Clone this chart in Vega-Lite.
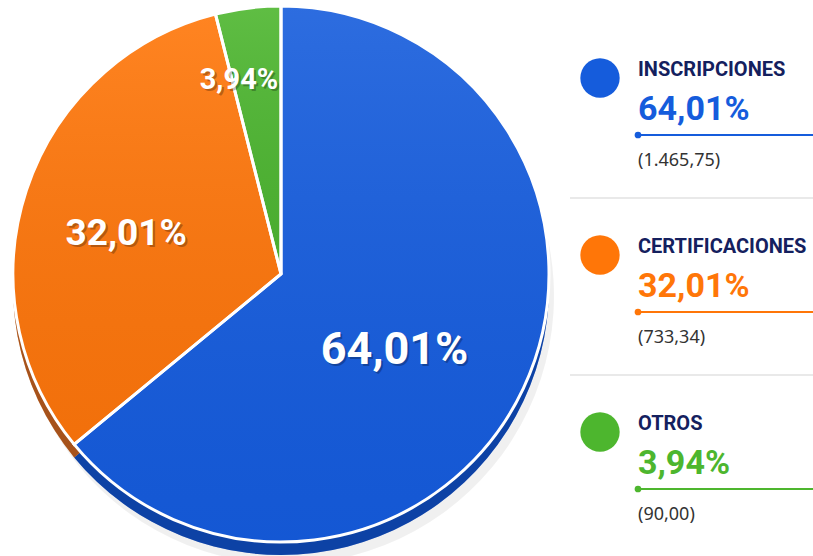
{
  "$schema": "https://vega.github.io/schema/vega-lite/v6.json",
  "padding": 0,
  "spacing": 0,
  "background": "#ffffff",
  "config": {"view": {"stroke": null}},
  "data": {"values": [
    {"cat": "INSCRIPCIONES", "order": 1, "value": 1465.75, "pct": "64,01%", "amount": "(1.465,75)"},
    {"cat": "CERTIFICACIONES", "order": 2, "value": 733.34, "pct": "32,01%", "amount": "(733,34)"},
    {"cat": "OTROS", "order": 3, "value": 90.00, "pct": "3,94%", "amount": "(90,00)"}
  ]},
  "hconcat": [
    {
      "width": 562,
      "height": 542,
      "encoding": {
        "theta": {"field": "value", "type": "quantitative", "stack": true},
        "order": {"field": "order", "type": "quantitative"}
      },
      "layer": [
        {"mark": {"type": "arc", "radius": 268, "yOffset": 22, "xOffset": 5, "color": "#000000", "opacity": 0.06}},
        {"mark": {"type": "arc", "radius": 268, "yOffset": 13},
         "encoding": {"color": {"field": "cat", "type": "nominal", "legend": null,
           "scale": {"domain": ["INSCRIPCIONES", "CERTIFICACIONES", "OTROS"], "range": ["#155cdc", "#ff7608", "#4db62e"]}}}},
        {"mark": {"type": "arc", "radius": 268, "yOffset": 13, "color": "#001040", "opacity": 0.35}},
        {"mark": {"type": "arc", "radius": 268},
         "encoding": {"color": {"field": "cat", "type": "nominal", "legend": null,
           "scale": {"domain": ["INSCRIPCIONES", "CERTIFICACIONES", "OTROS"], "range": ["#155cdc", "#ff7608", "#4db62e"]}}}},
        {"mark": {"type": "arc", "radius": 268, "stroke": "#ffffff", "strokeWidth": 3,
          "fill": {"gradient": "linear", "x1": 0, "y1": 0, "x2": 0, "y2": 1,
            "stops": [{"offset": 0, "color": "rgba(255,255,255,0.10)"}, {"offset": 1, "color": "rgba(0,0,60,0.05)"}]}}},
        {"mark": {"type": "text", "radius": 130, "dx": -2, "dy": 23, "font": "Roboto", "fontWeight": "bold", "fontSize": 45, "color": "#000000", "opacity": 0.25, "align": "center", "baseline": "middle"},
         "encoding": {"text": {"condition": {"test": "datum.cat === 'INSCRIPCIONES'", "field": "pct"}, "value": ""}}},
        {"mark": {"type": "text", "radius": 130, "dx": -4, "dy": 21, "font": "Roboto", "fontWeight": "bold", "fontSize": 45, "color": "#ffffff", "align": "center", "baseline": "middle"},
         "encoding": {"text": {"condition": {"test": "datum.cat === 'INSCRIPCIONES'", "field": "pct"}, "value": ""}}},
        {"mark": {"type": "text", "radius": 163, "dx": 2, "dy": 13, "font": "Roboto", "fontWeight": "bold", "fontSize": 37, "color": "#000000", "opacity": 0.25, "align": "center", "baseline": "middle"},
         "encoding": {"text": {"condition": {"test": "datum.cat === 'CERTIFICACIONES'", "field": "pct"}, "value": ""}}},
        {"mark": {"type": "text", "radius": 163, "dx": 0, "dy": 11, "font": "Roboto", "fontWeight": "bold", "fontSize": 37, "color": "#ffffff", "align": "center", "baseline": "middle"},
         "encoding": {"text": {"condition": {"test": "datum.cat === 'CERTIFICACIONES'", "field": "pct"}, "value": ""}}},
        {"mark": {"type": "text", "radius": 195, "dx": -16, "dy": 2, "font": "Roboto", "fontWeight": "bold", "fontSize": 29, "color": "#000000", "opacity": 0.25, "align": "center", "baseline": "middle"},
         "encoding": {"text": {"condition": {"test": "datum.cat === 'OTROS'", "field": "pct"}, "value": ""}}},
        {"mark": {"type": "text", "radius": 195, "dx": -18, "dy": 0, "font": "Roboto", "fontWeight": "bold", "fontSize": 29, "color": "#ffffff", "align": "center", "baseline": "middle"},
         "encoding": {"text": {"condition": {"test": "datum.cat === 'OTROS'", "field": "pct"}, "value": ""}}}
      ]
    },
    {
      "width": 251,
      "height": 542,
      "encoding": {
        "y": {"field": "cat", "type": "nominal", "sort": ["INSCRIPCIONES", "CERTIFICACIONES", "OTROS"],
              "scale": {"type": "point", "range": [75, 429], "padding": 0}, "axis": null}
      },
      "layer": [
        {"transform": [{"filter": "datum.order < 3"}],
         "mark": {"type": "rule", "yOffset": 120, "color": "#e2e2e2", "strokeWidth": 1.5},
         "encoding": {"x": {"value": 8}, "x2": {"value": 251}}},
        {"mark": {"type": "circle", "size": 1550, "opacity": 1},
         "encoding": {"x": {"value": 38},
           "color": {"field": "cat", "type": "nominal", "legend": null,
             "scale": {"domain": ["INSCRIPCIONES", "CERTIFICACIONES", "OTROS"], "range": ["#1658d8", "#ff7512", "#4cb52f"]}}}},
        {"mark": {"type": "text", "align": "left", "baseline": "middle", "dy": -8, "font": "Roboto", "fontWeight": "bold", "fontSize": 20, "color": "#14205e"},
         "encoding": {"x": {"value": 76}, "text": {"field": "cat"}}},
        {"mark": {"type": "text", "align": "left", "baseline": "middle", "dy": 32, "font": "Roboto", "fontWeight": "bold", "fontSize": 34},
         "encoding": {"x": {"value": 76}, "text": {"field": "pct"},
           "color": {"field": "cat", "type": "nominal", "legend": null,
             "scale": {"domain": ["INSCRIPCIONES", "CERTIFICACIONES", "OTROS"], "range": ["#1658d8", "#ff7512", "#4cb52f"]}}}},
        {"mark": {"type": "rule", "yOffset": 57, "strokeWidth": 2},
         "encoding": {"x": {"value": 76}, "x2": {"value": 251},
           "color": {"field": "cat", "type": "nominal", "legend": null,
             "scale": {"domain": ["INSCRIPCIONES", "CERTIFICACIONES", "OTROS"], "range": ["#1658d8", "#ff7512", "#4cb52f"]}}}},
        {"mark": {"type": "circle", "size": 45, "yOffset": 57, "opacity": 1},
         "encoding": {"x": {"value": 76},
           "color": {"field": "cat", "type": "nominal", "legend": null,
             "scale": {"domain": ["INSCRIPCIONES", "CERTIFICACIONES", "OTROS"], "range": ["#1658d8", "#ff7512", "#4cb52f"]}}}},
        {"mark": {"type": "text", "align": "left", "baseline": "middle", "dy": 83, "font": "Noto Sans", "fontSize": 18, "color": "#333333"},
         "encoding": {"x": {"value": 76}, "text": {"field": "amount"}}}
      ]
    }
  ]
}
